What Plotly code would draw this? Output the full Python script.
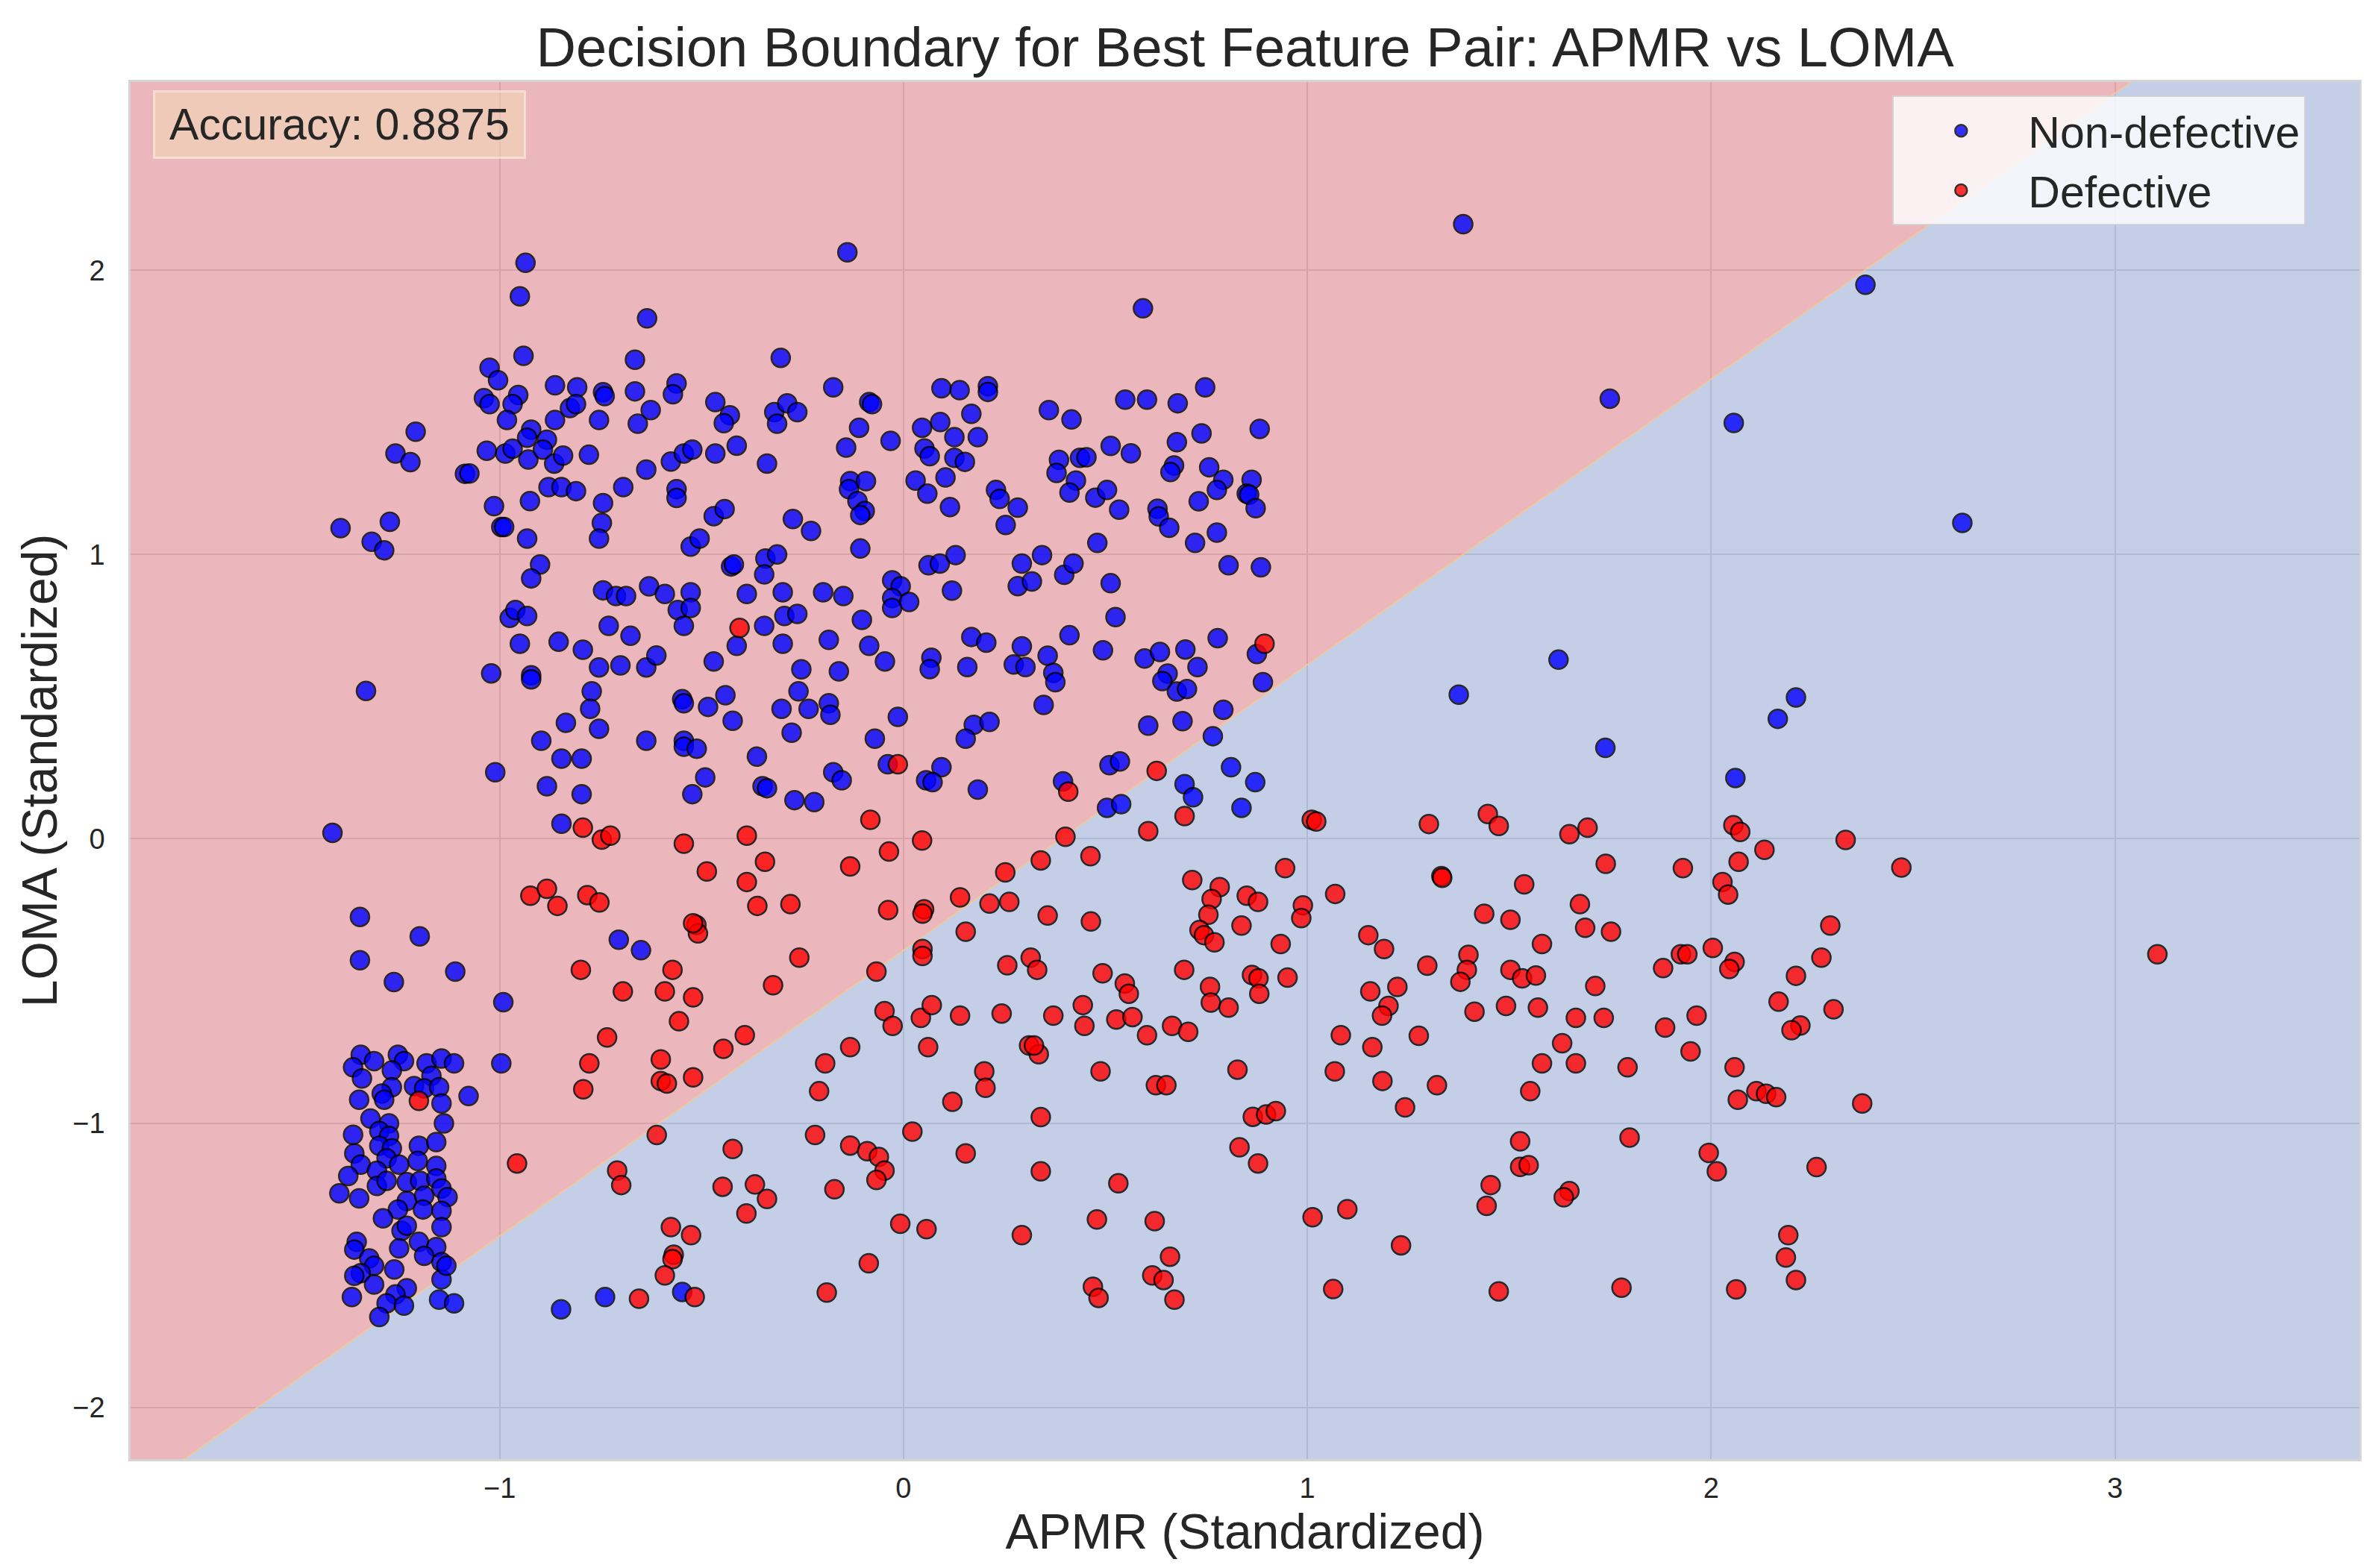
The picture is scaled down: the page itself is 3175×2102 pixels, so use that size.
import numpy as np
import plotly.graph_objects as go

# ---------------- data ----------------
NONDEF_PTS = [
    # dense cluster bottom-left
    (-1.344,-0.760),(-1.311,-0.782),(-1.363,-0.804),(-1.252,-0.760),(-1.237,-0.782),(-1.267,-0.815),(-1.181,-0.790),(-1.144,-0.773),(-1.113,-0.790),(-1.341,-0.843),
    (-1.169,-0.834),(-1.267,-0.874),(-1.212,-0.870),(-1.187,-0.878),(-1.150,-0.874),(-1.348,-0.918),(-1.292,-0.896),(-1.286,-0.918),(-1.144,-0.931),(-1.138,-1.001),
    (-1.320,-0.984),(-1.274,-1.001),(-1.363,-1.041),(-1.298,-1.028),(-1.274,-1.045),(-1.298,-1.080),(-1.267,-1.089),(-1.200,-1.080),(-1.157,-1.067),(-1.360,-1.107),
    (-1.344,-1.146),(-1.280,-1.124),(-1.203,-1.133),(-1.157,-1.151),(-1.375,-1.186),(-1.304,-1.168),(-1.249,-1.146),(-1.397,-1.247),(-1.348,-1.265),(-1.304,-1.221),
    (-1.280,-1.203),(-1.230,-1.208),(-1.197,-1.203),(-1.157,-1.195),(-1.144,-1.230),(-1.129,-1.260),(-1.230,-1.274),(-1.187,-1.256),(-1.252,-1.304),(-1.190,-1.304),
    (-1.144,-1.309),(-1.289,-1.335),(-1.243,-1.379),(-1.230,-1.361),(-1.144,-1.366),(-1.200,-1.418),(-1.249,-1.441),(-1.354,-1.418),(-1.360,-1.445),(-1.157,-1.436),
    (-1.187,-1.467),(-1.323,-1.476),(-1.144,-1.489),(-1.311,-1.502),(-1.344,-1.528),(-1.261,-1.515),(-1.360,-1.537),(-1.311,-1.568),(-1.230,-1.581),(-1.144,-1.550),
    (-1.258,-1.603),(-1.366,-1.612),(-1.280,-1.634),(-1.237,-1.642),(-1.150,-1.621),(-1.113,-1.634),(-1.298,-1.682),(-1.132,-1.502),
    (-0.996,-0.790),(-1.077,-0.905),
    # left strip
    (-1.208,1.432),(-1.258,1.355),(-1.221,1.325),(-1.086,1.284),(-1.394,1.093),(-1.272,1.115),(-1.317,1.045),(-1.286,1.015),(-1.331,0.520),(-1.414,0.021),
    (-1.346,-0.275),(-1.198,-0.343),(-1.346,-0.427),(-1.262,-0.504),(-1.110,-0.467),(-0.991,-0.575),
    (-0.705,-0.355),(-0.650,-0.392),(-0.848,-1.655),(-0.739,-1.612),(-0.548,-1.594),
    # upper block, x in [-1.1, 0]
    (-0.936,2.026),(-0.950,1.908),(-0.635,1.831),(-0.139,2.063),(-0.941,1.699),(-0.665,1.685),(-0.304,1.692),(-1.025,1.657),(-1.004,1.613),(-0.863,1.595),
    (-0.808,1.588),(-0.744,1.571),(-0.740,1.557),(-0.665,1.574),(-0.562,1.602),(-0.571,1.564),(-1.039,1.550),(-1.025,1.529),(-0.954,1.561),(-0.968,1.529),
    (-0.982,1.473),(-0.922,1.439),(-0.932,1.411),(-0.883,1.404),(-0.863,1.473),(-0.826,1.515),(-0.811,1.529),(-0.754,1.473),(-0.658,1.460),(-0.626,1.508),
    (-0.466,1.536),(-0.430,1.490),(-0.445,1.462),(-0.320,1.501),(-0.288,1.532),(-0.263,1.501),(-0.313,1.460),(-0.174,1.588),(-0.085,1.536),(-0.078,1.529),
    (-0.110,1.446),(-0.142,1.376),(-0.032,1.400),(-1.032,1.365),(-0.986,1.355),(-0.968,1.372),(-0.929,1.334),(-0.893,1.369),(-0.865,1.320),(-0.843,1.348),
    (-0.779,1.351),(-0.637,1.299),(-0.576,1.327),(-0.544,1.355),(-0.523,1.369),(-0.466,1.355),(-0.413,1.383),(-0.338,1.320),(-1.075,1.285),(-0.879,1.237),
    (-0.847,1.237),(-0.811,1.223),(-0.694,1.237),(-0.562,1.230),(-0.562,1.199),(-0.132,1.258),(-0.093,1.258),(-0.135,1.230),(-0.114,1.188),(-0.096,1.153),
    (-0.107,1.139),(-1.014,1.170),(-0.925,1.188),(-0.744,1.181),(-0.996,1.097),(-0.989,1.097),(-0.932,1.056),(-0.747,1.111),(-0.754,1.056),(-0.470,1.135),
    (-0.443,1.160),(-0.274,1.125),(-0.229,1.083),(-0.527,1.028),(-0.505,1.056),(-0.107,1.021),(-0.900,0.965),(-0.922,0.916),(-0.427,0.958),(-0.420,0.965),
    (-0.342,0.986),(-0.313,1.000),(-0.345,0.930),(-0.744,0.874),(-0.712,0.854),(-0.687,0.854),(-0.630,0.888),(-0.591,0.861),(-0.527,0.867),(-0.559,0.805),
    (-0.527,0.812),(-0.544,0.749),(-0.388,0.861),(-0.299,0.867),(-0.199,0.867),(-0.149,0.854),(-0.028,0.909),(-0.007,0.888),(-0.028,0.847),(-0.028,0.812),
    (0.014,0.833),(-0.975,0.777),(-0.961,0.805),(-0.932,0.784),(-0.730,0.749),(-0.676,0.714),(-0.345,0.749),(-0.295,0.784),(-0.263,0.791),(-0.103,0.770),
    (-0.950,0.686),(-0.854,0.693),(-0.794,0.665),(-0.754,0.603),(-0.701,0.610),(-0.637,0.603),(-0.612,0.645),(-0.470,0.624),(-0.413,0.679),(-0.299,0.686),
    (-0.185,0.700),(-0.085,0.679),(-0.046,0.624),(-1.021,0.582),(-0.922,0.575),(-0.922,0.561),(-0.772,0.519),(-0.776,0.457),(-0.754,0.387),(-0.548,0.491),
    (-0.544,0.477),(-0.484,0.464),(-0.441,0.505),(-0.423,0.415),(-0.253,0.596),(-0.260,0.519),(-0.302,0.457),(-0.235,0.457),(-0.185,0.477),(-0.181,0.436),
    (-0.160,0.589),(-0.014,0.429),(-0.836,0.408),(-0.897,0.345),(-0.847,0.282),(-0.797,0.282),(-0.637,0.345),(-0.544,0.345),(-0.544,0.324),(-0.512,0.317),
    (-0.363,0.289),(-0.277,0.373),(-0.071,0.352),(-1.011,0.234),(-0.883,0.185),(-0.797,0.157),(-0.491,0.216),(-0.523,0.157),(-0.349,0.185),(-0.338,0.178),
    (-0.174,0.234),(-0.153,0.206),(-0.270,0.136),(-0.221,0.129),(-0.039,0.262),(-0.847,0.053),
    # upper block, x in [0, 1]
    (0.593,1.866),(0.094,1.585),(0.139,1.578),(0.209,1.592),(0.209,1.572),(0.360,1.508),(0.416,1.475),(0.549,1.545),(0.603,1.545),(0.679,1.532),
    (0.747,1.588),(0.882,1.442),(0.046,1.446),(0.091,1.466),(0.168,1.495),(0.126,1.413),(0.184,1.413),(0.052,1.373),(0.065,1.346),(0.126,1.340),
    (0.152,1.326),(0.104,1.271),(0.030,1.260),(0.059,1.214),(0.115,1.167),(0.229,1.227),(0.238,1.196),(0.283,1.165),(0.253,1.104),(0.385,1.333),
    (0.437,1.340),(0.453,1.342),(0.379,1.287),(0.427,1.260),(0.411,1.218),(0.475,1.200),(0.504,1.227),(0.534,1.158),(0.513,1.382),(0.563,1.356),
    (0.677,1.395),(0.670,1.313),(0.661,1.290),(0.738,1.426),(0.757,1.307),(0.792,1.263),(0.776,1.227),(0.731,1.187),(0.862,1.263),(0.850,1.214),
    (0.856,1.210),(0.872,1.163),(0.629,1.161),(0.632,1.134),(0.658,1.094),(0.722,1.041),(0.776,1.077),(0.480,1.041),(0.805,0.962),(0.885,0.955),
    (0.062,0.962),(0.090,0.968),(0.129,0.998),(0.120,0.873),(0.293,0.968),(0.343,0.998),(0.283,0.889),(0.318,0.905),(0.398,0.929),(0.421,0.968),
    (0.513,0.899),(0.525,0.780),(0.411,0.716),(0.168,0.710),(0.205,0.690),(0.293,0.677),(0.069,0.637),(0.065,0.597),(0.158,0.604),(0.273,0.613),
    (0.302,0.604),(0.357,0.644),(0.371,0.584),(0.376,0.551),(0.347,0.471),(0.494,0.663),(0.597,0.634),(0.635,0.657),(0.698,0.666),(0.728,0.604),
    (0.654,0.581),(0.641,0.555),(0.677,0.518),(0.702,0.527),(0.778,0.706),(0.875,0.650),(0.890,0.551),
    (0.174,0.401),(0.213,0.411),(0.154,0.352),(0.606,0.398),(0.691,0.414),(0.792,0.454),(0.766,0.361),(0.094,0.252),(0.056,0.206),(0.072,0.199),
    (0.184,0.173),(0.395,0.202),(0.510,0.259),(0.536,0.272),(0.504,0.109),(0.539,0.122),(0.811,0.252),(0.871,0.199),(0.696,0.192),(0.717,0.146),(0.837,0.109),
    # sparse right side
    (1.386,2.162),(2.382,1.949),(1.749,1.548),(2.056,1.463),(2.622,1.111),(1.622,0.630),(1.375,0.507),(1.738,0.320),(2.165,0.422),(2.210,0.497),(2.060,0.214),
]

DEF_PTS = [
    (-1.200,-0.922),
    (-0.406,0.742),(-0.014,0.262),(-0.794,0.039),(-0.747,-0.003),(-0.726,0.011),(-0.544,-0.017),(-0.388,0.011),(-0.082,0.067),(-0.036,-0.045),
    (0.894,0.686),(0.408,0.166),(0.627,0.239),(0.696,0.080),(0.606,0.027),(0.401,0.007),(0.046,-0.006),
    (-0.487,-0.115),(-0.343,-0.081),(-0.388,-0.152),(-0.924,-0.200),(-0.883,-0.176),(-0.857,-0.236),(-0.783,-0.198),(-0.753,-0.224),(-0.132,-0.097),(-0.362,-0.236),
    (-0.280,-0.230),(-0.513,-0.303),(-0.509,-0.333),(-0.521,-0.297),(-0.038,-0.251),(0.051,-0.248),(0.047,-0.263),(0.047,-0.388),(0.047,-0.412),(-0.258,-0.418),
    (-0.067,-0.467),(-0.323,-0.515),(-0.799,-0.461),(-0.572,-0.461),(-0.695,-0.537),(-0.591,-0.537),(-0.521,-0.558),(-0.556,-0.642),(-0.047,-0.606),(-0.027,-0.658),
    (0.043,-0.630),(0.070,-0.585),(-0.734,-0.699),(-0.446,-0.739),(-0.393,-0.691),(-0.132,-0.733),(0.061,-0.733),(-0.778,-0.790),(-0.601,-0.776),(-0.601,-0.852),
    (-0.586,-0.861),(-0.521,-0.839),(-0.793,-0.881),(-0.194,-0.790),(-0.209,-0.888),(-0.611,-1.042),(-0.957,-1.142),(-0.709,-1.167),(-0.699,-1.218),(-0.423,-1.091),
    (-0.448,-1.224),(-0.368,-1.216),(-0.338,-1.267),(-0.389,-1.318),(-0.219,-1.042),(-0.132,-1.079),(-0.090,-1.099),(-0.061,-1.119),(-0.047,-1.167),(-0.067,-1.200),
    (-0.171,-1.233),(0.022,-1.030),(-0.576,-1.366),(-0.526,-1.394),(-0.569,-1.463),(-0.572,-1.479),(-0.591,-1.536),(-0.655,-1.618),(-0.517,-1.612),(-0.008,-1.354),
    (0.057,-1.373),(-0.086,-1.493),(-0.190,-1.596),
    (1.011,0.067),(1.022,0.061),(0.463,-0.061),(0.340,-0.076),(0.252,-0.118),(0.140,-0.206),(0.213,-0.228),(0.262,-0.222),(0.357,-0.270),(0.464,-0.291),
    (0.154,-0.327),(0.945,-0.103),(0.715,-0.145),(0.783,-0.170),(0.763,-0.212),(0.755,-0.267),(0.733,-0.321),(0.744,-0.339),(0.770,-0.364),(0.850,-0.200),
    (0.878,-0.222),(0.837,-0.305),(0.989,-0.234),(0.985,-0.279),(1.069,-0.194),(0.934,-0.370),(1.151,-0.339),(1.190,-0.388),(0.257,-0.445),(0.315,-0.418),
    (0.331,-0.461),(0.493,-0.473),(0.548,-0.509),(0.558,-0.545),(0.695,-0.461),(0.759,-0.521),(0.761,-0.576),(0.805,-0.594),(0.863,-0.479),(0.879,-0.491),
    (0.881,-0.545),(0.951,-0.488),(1.156,-0.537),(1.223,-0.521),(1.201,-0.588),(1.185,-0.622),(0.140,-0.622),(0.243,-0.615),(0.371,-0.622),(0.444,-0.585),
    (0.448,-0.658),(0.527,-0.636),(0.567,-0.627),(0.603,-0.691),(0.665,-0.658),(0.705,-0.679),(1.083,-0.691),(1.161,-0.733),(0.311,-0.727),(0.335,-0.758),
    (0.323,-0.727),(0.200,-0.818),(0.203,-0.876),(0.121,-0.925),(0.488,-0.818),(0.625,-0.867),(0.651,-0.867),(0.827,-0.812),(1.068,-0.818),(1.186,-0.852),
    (0.340,-0.979),(0.865,-0.978),(0.898,-0.970),(0.922,-0.958),(0.154,-1.107),(0.340,-1.170),(0.532,-1.212),(0.832,-1.085),(0.878,-1.142),(0.479,-1.339),
    (0.622,-1.345),(0.293,-1.394),(1.013,-1.331),(1.099,-1.303),(0.660,-1.470),(0.616,-1.536),(0.644,-1.552),(0.469,-1.576),(0.483,-1.615),(0.671,-1.621),
    (1.064,-1.584),
    (1.301,0.052),(1.447,0.087),(1.474,0.045),(1.649,0.016),(1.694,0.039),(2.055,0.048),(2.072,0.024),(2.333,-0.004),(2.132,-0.039),(2.068,-0.081),
    (2.471,-0.101),(1.739,-0.088),(1.930,-0.103),(1.332,-0.131),(1.334,-0.137),(1.537,-0.160),(2.028,-0.152),(2.042,-0.196),(1.675,-0.230),(1.438,-0.264),
    (1.503,-0.285),(1.688,-0.313),(1.752,-0.327),(2.295,-0.305),(1.581,-0.370),(1.399,-0.408),(1.395,-0.461),(1.379,-0.503),(1.297,-0.446),(1.503,-0.461),
    (1.532,-0.491),(1.566,-0.481),(1.713,-0.518),(1.925,-0.406),(1.941,-0.406),(2.004,-0.384),(1.881,-0.455),(2.058,-0.433),(2.045,-0.458),(2.273,-0.418),
    (2.210,-0.482),(2.167,-0.573),(2.303,-0.600),(2.221,-0.657),(2.199,-0.673),(1.414,-0.608),(1.492,-0.588),(1.571,-0.594),(1.665,-0.630),(1.734,-0.630),
    (1.964,-0.622),(1.886,-0.664),(1.276,-0.693),(1.631,-0.719),(1.581,-0.790),(1.665,-0.790),(1.793,-0.804),(1.949,-0.748),(2.058,-0.804),(1.321,-0.867),
    (1.242,-0.945),(1.552,-0.888),(2.066,-0.918),(2.112,-0.888),(2.136,-0.897),(2.161,-0.909),(2.374,-0.931),(1.527,-1.064),(1.527,-1.154),(1.548,-1.148),
    (1.798,-1.051),(1.994,-1.105),(2.014,-1.170),(2.261,-1.155),(1.454,-1.218),(1.444,-1.291),(1.649,-1.239),(1.635,-1.261),(1.232,-1.430),(2.191,-1.394),
    (2.185,-1.473),(2.210,-1.552),(1.474,-1.592),(1.778,-1.579),(2.062,-1.585),
    (3.105,-0.406),
]

NONDEF_X = [p[0] for p in NONDEF_PTS]
NONDEF_Y = [p[1] for p in NONDEF_PTS]
DEF_X = [p[0] for p in DEF_PTS]
DEF_Y = [p[1] for p in DEF_PTS]

# linear decision boundary (LOMA = slope * APMR + intercept)
BOUNDARY_SLOPE = 1.005
BOUNDARY_INTERCEPT = -0.392

X_RANGE = [-1.914, 3.605]
Y_RANGE = [-2.182, 2.662]
X_TICKS = [-1, 0, 1, 2, 3]
Y_TICKS = [-2, -1, 0, 1, 2]

TITLE = "Decision Boundary for Best Feature Pair: APMR vs LOMA"
X_LABEL = "APMR (Standardized)"
Y_LABEL = "LOMA (Standardized)"
ACCURACY_TEXT = "Accuracy: 0.8875"

FONT = "Liberation Sans, Arial, Helvetica, sans-serif"
TEXT_COLOR = "#262626"

# ---------------- decision regions ----------------
bx = np.array(X_RANGE)
by = BOUNDARY_SLOPE * bx + BOUNDARY_INTERCEPT
x0, x1 = X_RANGE
y0, y1 = Y_RANGE
upper_x = [x0, x0, x1, x1, x0]
upper_y = [by[0], y1, y1, by[1], by[0]]
lower_x = [x0, x1, x1, x0, x0]
lower_y = [by[0], by[1], y0, y0, by[0]]

fig = go.Figure()
fig.add_trace(go.Scatter(x=upper_x, y=upper_y, mode="lines", fill="toself",
                         fillcolor="rgba(188,18,32,0.30)", line=dict(width=0),
                         hoverinfo="skip", showlegend=False))
fig.add_trace(go.Scatter(x=lower_x, y=lower_y, mode="lines", fill="toself",
                         fillcolor="rgba(62,92,175,0.30)", line=dict(width=0),
                         hoverinfo="skip", showlegend=False))
fig.add_trace(go.Scatter(x=list(bx), y=list(by), mode="lines",
                         line=dict(color="rgba(242,198,150,0.9)", width=2),
                         hoverinfo="skip", showlegend=False))

marker_common = dict(size=25, opacity=0.8, line=dict(color="black", width=2.5))
fig.add_trace(go.Scatter(x=NONDEF_X, y=NONDEF_Y, mode="markers", name="Non-defective",
                         marker=dict(color="blue", **marker_common)))
fig.add_trace(go.Scatter(x=DEF_X, y=DEF_Y, mode="markers", name="Defective",
                         marker=dict(color="red", **marker_common)))

axis_common = dict(
    showgrid=True, gridcolor="#e2e2e2", gridwidth=2,
    zeroline=False, showline=True, linecolor="#d4d4d4", linewidth=2.5, mirror=True,
    ticks="outside", tickcolor="rgba(0,0,0,0)",
    tickfont=dict(family=FONT, size=38, color=TEXT_COLOR),
)

fig.update_layout(
    width=3175, height=2102,
    margin=dict(l=167, r=21, t=102, b=154),
    paper_bgcolor="white", plot_bgcolor="white",
    font=dict(family=FONT, color=TEXT_COLOR),
    title=dict(text=TITLE, x=0.5, xref="paper", y=1 - 55 / 2102, yref="container",
               xanchor="center", yanchor="middle",
               font=dict(family=FONT, size=74, color=TEXT_COLOR)),
    xaxis=dict(range=X_RANGE, tickvals=X_TICKS, ticklen=4,
               title=dict(text=X_LABEL, standoff=6, font=dict(family=FONT, size=66, color=TEXT_COLOR)),
               **axis_common),
    yaxis=dict(range=Y_RANGE, tickvals=Y_TICKS, ticklen=24,
               title=dict(text=Y_LABEL, standoff=0, font=dict(family=FONT, size=66, color=TEXT_COLOR)),
               **axis_common),
    legend=dict(x=0.976, xanchor="right", y=0.990, yanchor="top",
                bgcolor="rgba(255,255,255,0.8)", bordercolor="rgba(210,210,210,0.9)", borderwidth=2,
                font=dict(family=FONT, size=59, color=TEXT_COLOR),
                itemwidth=170),
    annotations=[dict(
        text=ACCURACY_TEXT, xref="paper", yref="paper", x=0.010, y=0.994,
        xanchor="left", yanchor="top", showarrow=False,
        font=dict(family=FONT, size=59, color=TEXT_COLOR),
        bgcolor="rgba(245,222,179,0.5)", bordercolor="rgba(255,240,225,0.6)", borderwidth=3,
        borderpad=12, width=470, height=62, align="center",
    )],
)

fig.write_html("out.html")
